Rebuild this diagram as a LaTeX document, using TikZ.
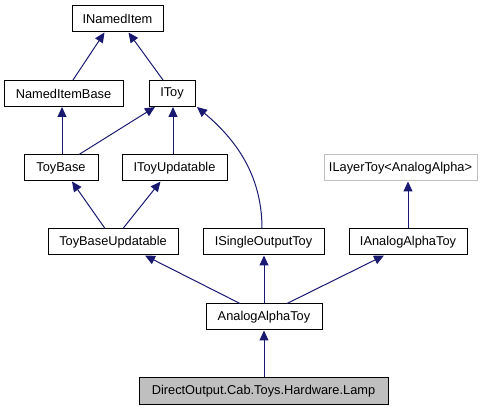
\documentclass[tikz,border=0pt]{standalone}
\usepackage{fontspec}
\setmainfont{Liberation Sans}
\usetikzlibrary{arrows.meta}
\definecolor{edgeblue}{HTML}{191970}
\definecolor{grey75}{HTML}{BFBFBF}
\begin{document}
\begin{tikzpicture}[x=1pt,y=-1pt,line cap=butt,line join=miter,
	cls/.style={draw=black,line width=1pt,minimum height=26pt,inner sep=0pt,font=\fontsize{12.8}{14}\selectfont},
	inh/.style={draw=edgeblue,line width=1pt,-{Triangle[length=10pt,width=9pt]}}]
			\useasboundingbox (0,0) rectangle (496,411);
			% classes
			\node[cls,minimum width=91pt] (ni) at (117.5,19) {INamedItem};
			\node[cls,minimum width=119pt] (nib) at (63.5,93.5) {NamedItemBase};
			\node[cls,minimum width=46pt] (itoy) at (172,93.5) {IToy};
			\node[cls,minimum width=74pt] (tb) at (61,168) {ToyBase};
			\node[cls,minimum width=105pt] (itu) at (174.5,168) {IToyUpdatable};
			\node[cls,draw=grey75,minimum width=153pt] (ilt) at (400.5,168) {ILayerToy<AnalogAlpha>};
			\node[cls,minimum width=130pt] (tbu) at (113,242) {ToyBaseUpdatable};
			\node[cls,minimum width=121pt] (iso) at (263.5,242) {ISingleOutputToy};
			\node[cls,minimum width=118pt] (iaat) at (408,242) {IAnalogAlphaToy};
			\node[cls,minimum width=116pt] (aat) at (264,317) {AnalogAlphaToy};
			\node[cls,fill=grey75,minimum width=249pt,minimum height=27pt] (lamp) at (263.5,391.5) {DirectOutput.Cab.Toys.Hardware.Lamp};
			% inheritance
			\foreach \c/\dc/\p/\dp in {nib/9.5/ni/-13,itoy/-9/ni/11,tb/1/nib/-1.5,tb/18/itoy/-17,
				itu/-1.5/itoy/1,tbu/-8/tb/11,tbu/10/itu/-14,iaat/0/ilt/7.5,
				aat/-24/tbu/32,aat/0/iso/0.5,aat/23/iaat/-24,lamp/0.5/aat/0}{
				\draw[inh] ([xshift=\dc]\c.north) -- ([xshift=\dp]\p.south);
			}
			\draw[inh] ([xshift=-1.5]iso.north) .. controls +(0,-55) and (234,138) .. ([xshift=25]itoy.south);
		\end{tikzpicture}
\end{document}
